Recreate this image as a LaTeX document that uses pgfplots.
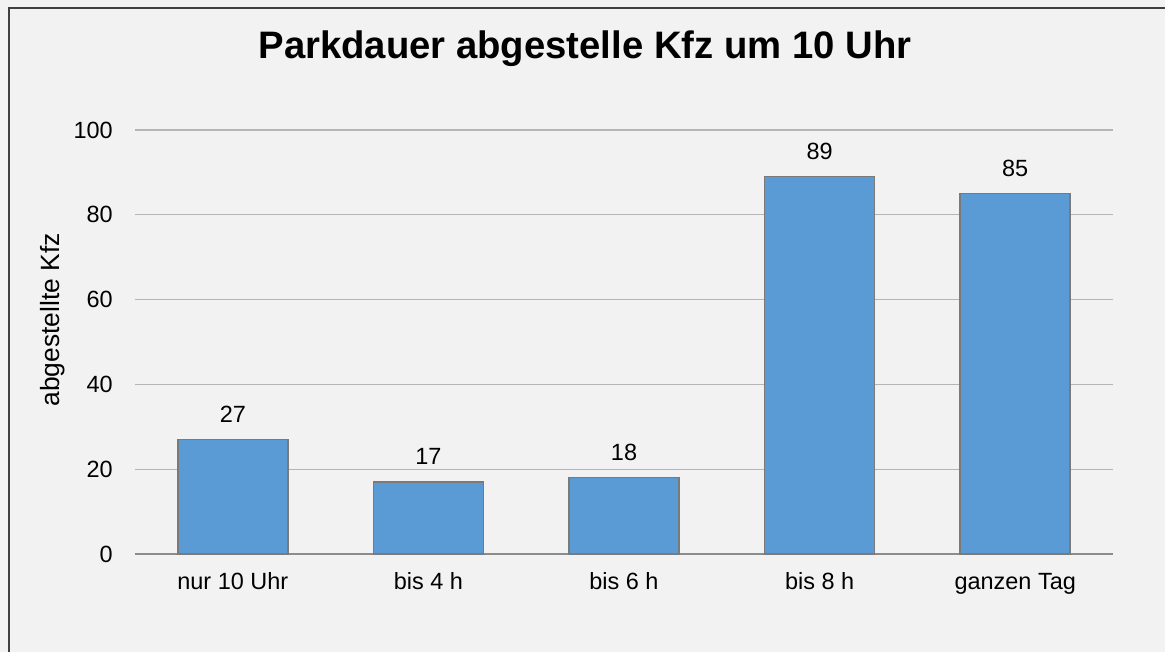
\documentclass[border=0pt]{standalone}
\usepackage{pgfplots}
\pgfplotsset{compat=1.18}
\usepackage{fontspec}
\setmainfont{Liberation Sans}
\definecolor{bg}{HTML}{F2F2F2}
\definecolor{barblue}{HTML}{5B9BD5}
\definecolor{baredge}{HTML}{7A7A7A}
\definecolor{gridc}{HTML}{B5B5B5}
\definecolor{axisc}{HTML}{8C8C8C}
\definecolor{framec}{HTML}{404040}
\begin{document}
\begin{tikzpicture}
\useasboundingbox (0,0) rectangle (873.75pt,-489pt);
\fill[bg] (0,0) rectangle (873.75pt,-489pt);
\draw[framec, line width=1.5pt] (6.75pt,-489pt) -- (6.75pt,-6pt) -- (873.75pt,-6pt);
\node[anchor=base, font=\fontsize{28.7pt}{34pt}\selectfont\bfseries] at (438.75pt,-44.25pt) {Parkdauer abgestelle Kfz um 10 Uhr};
\node[anchor=base, rotate=90, font=\fontsize{19.8pt}{24pt}\selectfont] at (44.25pt,-240pt) {abgestellte Kfz};
\begin{axis}[
  at={(101.25pt,-415.5pt)}, anchor=south west,
  scale only axis, width=733.5pt, height=318pt,
  ybar, bar width=0.5625,
  xmin=-0.5, xmax=4.5, ymin=0, ymax=100,
  xtick=data,
  xticklabels={nur 10 Uhr, bis 4 h, bis 6 h, bis 8 h, ganzen Tag},
  ytick={0,20,40,60,80,100},
  ymajorgrids, grid style={gridc, line width=0.9pt},
  axis x line*=bottom, axis y line*=left,
  x axis line style={axisc, line width=1.2pt, -},
  y axis line style={draw=none},
  major tick length=0pt,
  tick style={draw=none},
  ticklabel style={font=\fontsize{17.6pt}{21pt}\selectfont},
  xticklabel style={anchor=base, yshift=-26.25pt, inner sep=0pt},
  yticklabel style={anchor=east, xshift=-16.5pt, inner sep=0pt},
  /pgf/number format/assume math mode=true,
  nodes near coords,
  every node near coord/.append style={anchor=base, yshift=12.75pt, inner sep=0pt, font=\fontsize{17.6pt}{21pt}\selectfont, text=black},
  clip=false,
]
\addplot[fill=barblue, draw=baredge, line width=1.2pt, bar shift=0pt] coordinates {(0,27) (1,17) (2,18) (3,89) (4,85)};
\end{axis}
\end{tikzpicture}
\end{document}
